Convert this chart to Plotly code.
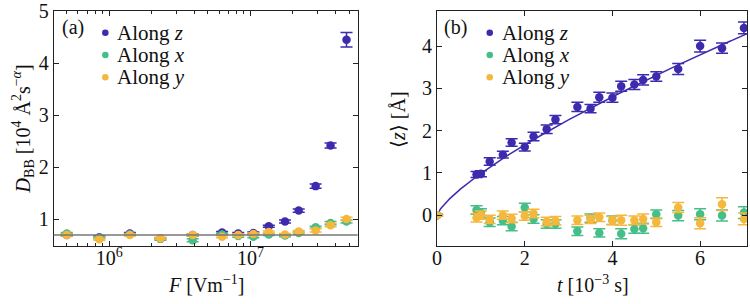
import numpy as np
import plotly.graph_objects as go

# ---------------- data: panel (a) ----------------
F_vals = [5.0e5, 8.5e5, 1.4e6, 2.3e6, 3.9e6, 6.3e6, 8.2e6, 1.05e7, 1.35e7, 1.76e7, 2.2e7, 2.9e7, 3.7e7, 4.8e7]
D_z = [0.70, 0.66, 0.73, 0.63, 0.70, 0.75, 0.73, 0.74, 0.87, 0.96, 1.17, 1.64, 2.42, 4.45]
D_z_err = [0.02, 0.02, 0.02, 0.02, 0.02, 0.02, 0.02, 0.02, 0.02, 0.03, 0.03, 0.04, 0.05, 0.14]
D_x = [0.73, 0.65, 0.71, 0.63, 0.60, 0.71, 0.68, 0.67, 0.71, 0.69, 0.74, 0.85, 0.93, 0.96]
D_x_err = [0.02, 0.02, 0.02, 0.02, 0.03, 0.02, 0.02, 0.02, 0.02, 0.02, 0.02, 0.02, 0.03, 0.03]
D_y = [0.70, 0.62, 0.70, 0.64, 0.70, 0.67, 0.70, 0.72, 0.76, 0.71, 0.77, 0.79, 0.89, 1.01]
D_y_err = [0.02, 0.02, 0.02, 0.02, 0.02, 0.02, 0.02, 0.02, 0.02, 0.02, 0.02, 0.03, 0.03, 0.03]
D_ref = 0.70

# ---------------- data: panel (b) ----------------
t_vals = [0, 0.9, 1.0, 1.2, 1.5, 1.7, 2.0, 2.2, 2.5, 2.7, 3.2, 3.5, 3.7, 4.0, 4.2, 4.5, 4.7, 5.0, 5.5, 6.0, 6.5, 7.0]
z_mean = [0, 0.96, 0.98, 1.27, 1.43, 1.72, 1.61, 1.86, 2.03, 2.26, 2.56, 2.52, 2.79, 2.78, 3.05, 3.09, 3.20, 3.28, 3.46, 4.00, 3.95, 4.43]
z_err = [0.02, 0.07, 0.07, 0.09, 0.08, 0.09, 0.09, 0.10, 0.10, 0.10, 0.11, 0.10, 0.12, 0.11, 0.12, 0.12, 0.12, 0.11, 0.13, 0.14, 0.12, 0.14]
x_mean = [0, 0.12, 0.05, -0.17, -0.13, -0.27, 0.18, -0.09, -0.21, -0.21, -0.38, -0.07, -0.42, -0.12, -0.44, -0.33, -0.31, 0.02, -0.01, 0.02, -0.01, 0.06]
x_err = [0.02, 0.10, 0.10, 0.10, 0.10, 0.10, 0.10, 0.10, 0.10, 0.10, 0.10, 0.10, 0.10, 0.10, 0.12, 0.10, 0.12, 0.10, 0.12, 0.13, 0.13, 0.14]
y_mean = [0, -0.06, 0.0, -0.10, 0.0, -0.08, -0.02, 0.04, -0.15, -0.13, -0.12, -0.10, -0.05, -0.13, -0.12, -0.12, -0.09, -0.17, 0.18, -0.19, 0.26, -0.09]
y_err = [0.02, 0.10, 0.10, 0.10, 0.10, 0.10, 0.10, 0.10, 0.10, 0.10, 0.10, 0.10, 0.10, 0.10, 0.12, 0.10, 0.12, 0.10, 0.12, 0.13, 0.15, 0.14]
fit_A = 0.99
fit_alpha = 0.75

labels = ["Along <i>z</i>", "Along <i>x</i>", "Along <i>y</i>"]
colors = ["#3D2BAE", "#45BE88", "#F5B83C"]

FONT = "Liberation Serif"
W, H = 750, 304
MT, MB = 8, 58
PH = H - MT - MB

fig = go.Figure()

def add_series(x, y, e, color, xa, ya):
    fig.add_trace(go.Scatter(
        x=x, y=y, mode="markers", xaxis=xa, yaxis=ya, showlegend=False,
        marker=dict(color=color, size=8.5),
        error_y=dict(type="data", array=e, visible=True, color=color, thickness=1.5, width=6),
    ))

# panel (a)
for yv, ev, c in [(D_z, D_z_err, colors[0]), (D_x, D_x_err, colors[1]), (D_y, D_y_err, colors[2])]:
    add_series(F_vals, yv, ev, c, "x", "y")

# panel (b) fit line
t_fit = np.linspace(0, 7.07, 300)
fig.add_trace(go.Scatter(x=t_fit, y=fit_A * t_fit ** fit_alpha, mode="lines", xaxis="x2", yaxis="y2",
                         line=dict(color=colors[0], width=1.5), showlegend=False, hoverinfo="skip"))
for yv, ev, c in [(z_mean, z_err, colors[0]), (x_mean, x_err, colors[1]), (y_mean, y_err, colors[2])]:
    add_series(t_vals, yv, ev, c, "x2", "y2")

axis_common = dict(showline=True, linecolor="#222", linewidth=1, mirror="allticks", ticks="inside",
                   ticklen=5, tickcolor="#222", showgrid=False, zeroline=False,
                   ticklabeloverflow="allow",
                   tickfont=dict(family=FONT, size=20, color="#111"))

minor_vals = [m * 10 ** p for p in (5, 6, 7) for m in range(2, 10)]

fig.update_layout(
    width=W, height=H, margin=dict(l=0, r=0, t=MT, b=MB),
    paper_bgcolor="white", plot_bgcolor="white",
    xaxis=dict(domain=[49 / W, 355 / W], type="log", range=[5.606, 7.76],
               tickvals=[1e6, 1e7], ticktext=["10<sup>6</sup>", "10<sup>7</sup>"],
               minor=dict(tickvals=minor_vals, ticks="inside", ticklen=3, tickcolor="#222"),
               ticklabelstandoff=-6, anchor="y", **axis_common),
    yaxis=dict(domain=[0, 1], range=[0.49, 5.003], tickvals=[1, 2, 3, 4, 5],
               anchor="x", **axis_common),
    xaxis2=dict(domain=[435 / W, 747 / W], range=[0, 7.07], tickvals=[0, 2, 4, 6],
                ticklabelstandoff=-6, anchor="y2", **axis_common),
    yaxis2=dict(domain=[0, 1], range=[-0.73, 4.83], tickvals=[0, 1, 2, 3, 4],
                anchor="x2", **axis_common),
)

# reference horizontal line in (a)
fig.add_shape(type="line", xref="x domain", yref="y", x0=0, x1=1, y0=D_ref, y1=D_ref,
              line=dict(color="#777", width=1.5), layer="above")

def px2paper(px, py):
    return px / W, (H - MB - py) / PH

def add_text(txt, px, py, size=20, xanchor="center", angle=0):
    xp, yp = px2paper(px, py)
    fig.add_annotation(text=txt, x=xp, y=yp, xref="paper", yref="paper", xanchor=xanchor, yanchor="middle",
                       textangle=angle, showarrow=False, font=dict(family=FONT, size=size, color="#111"))

# axis titles
add_text("<i>F</i> [Vm<sup>−1</sup>]", 202, 284)
add_text("<i>t</i> [10<sup>−3</sup> s]", 592, 284)
add_text("<i>D</i><sub>BB</sub> [10<sup>4</sup> Å<sup>2</sup>s<sup>−<i>α</i></sup>]", 18, 127, angle=-90)
add_text("⟨<i>z</i>⟩ [Å]", 395, 118, angle=-90)

# panel labels
add_text("(a)", 55, 25, xanchor="left")
add_text("(b)", 440, 25, xanchor="left")

# legends
for dot_x, text_x in [(101, 111), (488, 498)]:
    for i, (lab, c) in enumerate(zip(labels, colors)):
        cy = 30 + i * 22.5
        r = 3.3
        x0, y0 = px2paper(dot_x - r, cy + r)
        x1, y1 = px2paper(dot_x + r, cy - r)
        fig.add_shape(type="circle", xref="paper", yref="paper", x0=x0, y0=y0, x1=x1, y1=y1,
                      fillcolor=c, line=dict(width=0))
        add_text(lab, text_x, cy, size=21, xanchor="left")

fig.write_html("out.html", config={"displayModeBar": False},
               post_script="document.body.style.margin='0';document.body.style.padding='0';"
                           "document.body.style.overflow='hidden';")
